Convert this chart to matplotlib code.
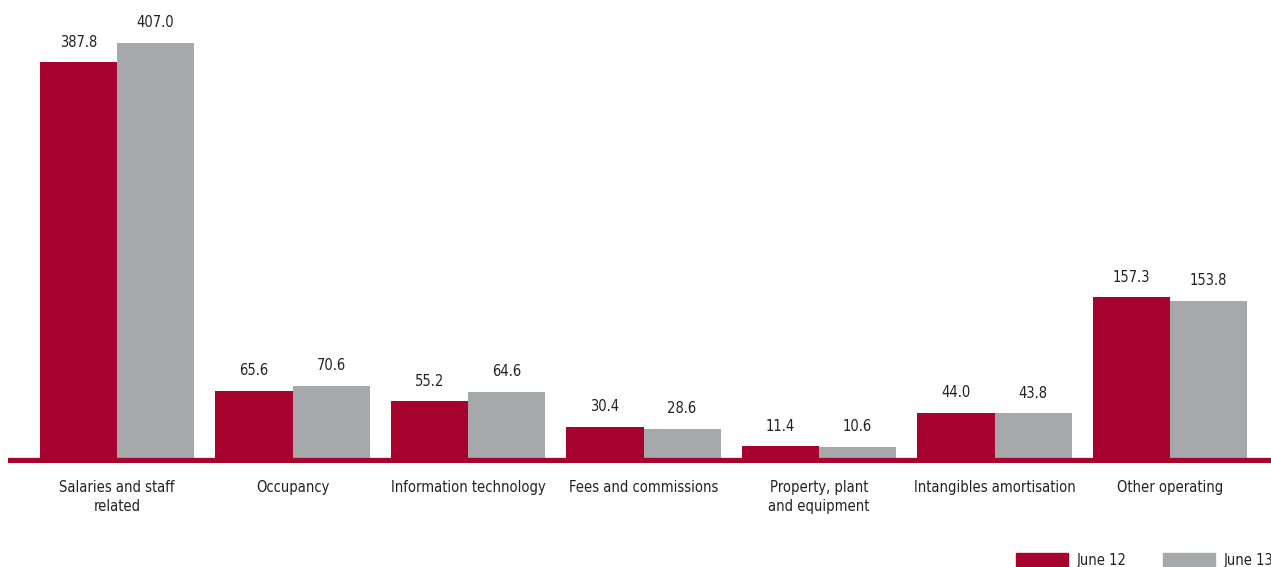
import numpy as np
import matplotlib.pyplot as plt
from matplotlib.patches import Rectangle

# data
categories = ['Salaries and staff\nrelated', 'Occupancy', 'Information technology',
              'Fees and commissions', 'Property, plant\nand equipment',
              'Intangibles amortisation', 'Other operating']
june12 = [387.8, 65.6, 55.2, 30.4, 11.4, 44.0, 157.3]
june13 = [407.0, 70.6, 64.6, 28.6, 10.6, 43.8, 153.8]
series_names = ['June 12', 'June 13']

red = '#A6032F'
grey = '#A7A8AB'

plt.rcParams['font.family'] = ['DejaVu Sans']
plt.rcParams['font.stretch'] = 'condensed'

W, H = 1271, 567
fig = plt.figure(figsize=(W / 100, H / 100), dpi=100)

# axes from x=8px to right edge, bottom at y=463px from top
base_px = 463
off_px = 5.3   # zero line sits this far above the axes bottom
ax = fig.add_axes([8 / W, (H - base_px) / H, 1 - 8 / W, base_px / H])
ax.set_axis_off()

scale = 1.02  # px per unit
ax.set_ylim(-off_px / scale, (base_px - off_px) / scale)
ax.set_xlim(-109 / 175.5, 1154 / 175.5)

x = np.arange(len(categories))
w = 0.44
b1 = ax.bar(x - w / 2, june12, w, color=red, zorder=2)
b2 = ax.bar(x + w / 2, june13, w, color=grey, zorder=2)
ax.axhline(-off_px / 2 / scale, color=red, lw=3.8, zorder=3)

for bars in (b1, b2):
    for r in bars:
        ax.annotate(f'{r.get_height():.1f}', (r.get_x() + r.get_width() / 2, r.get_height()),
                    xytext=(0, 9), textcoords='offset points', ha='center', va='bottom',
                    fontsize=10.5, color='#222222')

for xi, lab in zip(x, categories):
    ax.annotate(lab, (xi, 0), xytext=(0, -16), textcoords='offset points',
                ha='center', va='top', fontsize=10.5, color='#222222',
                linespacing=1.3, annotation_clip=False)

# legend at bottom right
for sx, col, name in [(1016, red, series_names[0]), (1163, grey, series_names[1])]:
    fig.patches.append(Rectangle((sx / W, 0), 52 / W, 14 / H, transform=fig.transFigure,
                                 color=col))
    fig.text((sx + 61) / W, 6 / H, name, fontsize=10.5, color='#222222', va='center')

fig.savefig('out.png', dpi=100)
